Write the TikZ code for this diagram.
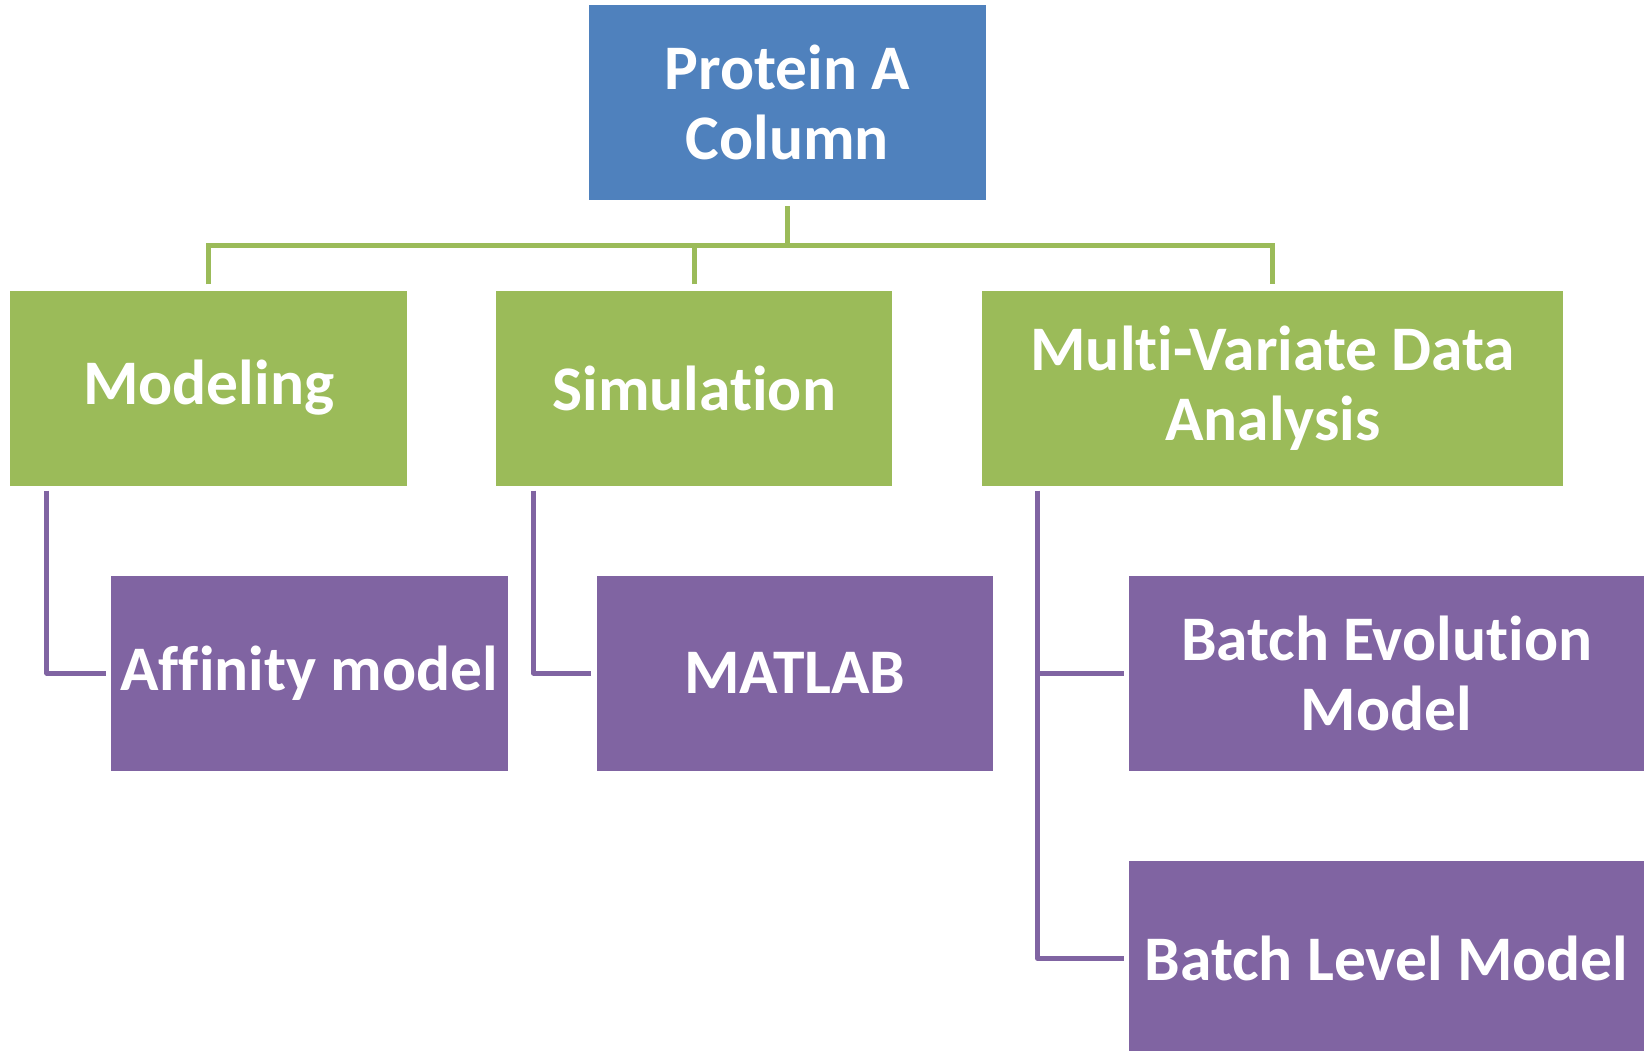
\documentclass[tikz,border=0pt]{standalone}
\usepackage{fontspec}
\setmainfont{Carlito}[Ligatures=NoCommon]
\definecolor{boxblue}{HTML}{4F81BD}
\definecolor{boxgreen}{HTML}{9BBB59}
\definecolor{boxpurple}{HTML}{8064A2}
\begin{document}
\begin{tikzpicture}[x=1pt,y=-1pt,
  box/.style={rectangle, inner sep=0pt, minimum height=195pt, text=white,
    font=\fontsize{63.5}{70}\selectfont\bfseries, align=flush center},
  bluebox/.style={box, fill=boxblue, minimum width=396.5pt, text width=390pt},
  greenbox/.style={box, fill=boxgreen},
  purplebox/.style={box, fill=boxpurple},
  gline/.style={draw=boxgreen, line width=5pt},
  pline/.style={draw=boxpurple, line width=5pt, line join=round}]
\useasboundingbox (0,0) rectangle (1644,1051);

% top level
\node[bluebox] (top) at (787.3,102.75) {Protein A\\Column};

% second level
\node[greenbox, minimum width=396.3pt, text width=390pt] (modeling) at (208.6,388) {Modeling};
\node[greenbox, minimum width=396.3pt, text width=390pt] (simulation) at (694.2,388) {Simulation};
\node[greenbox, minimum width=581pt, text width=570pt] (mvda) at (1272.8,388) {Multi-Variate Data\\Analysis};

% third level
\node[purplebox, minimum width=396.5pt, text width=396pt] (affinity) at (309.3,673.1) {Affinity model};
\node[purplebox, minimum width=396.5pt, text width=390pt] (matlab) at (794.8,673.1) {MATLAB};
\node[purplebox, minimum width=515pt, text width=505pt] (batchevo) at (1386.5,673.1) {Batch Evolution\\Model};
\node[purplebox, minimum width=515pt, text width=515pt] (batchlevel) at (1386.5,958.3) {Batch Level Model};

% green bus from the top box to the second level
\coordinate (bus) at (787.4,245.4);
\draw[gline] ([yshift=-6pt]top.south) -- (top.south |- bus);
\draw[gline] ([yshift=6pt]modeling.north) |- (bus) -| ([yshift=6pt]mvda.north);
\draw[gline] ([yshift=6pt]simulation.north) -- (simulation.north |- bus);

% purple elbows to the third level
\draw[pline] ([xshift=36.7pt,yshift=-5pt]modeling.south west) |- ([xshift=-5pt]affinity.west);
\draw[pline] ([xshift=37.7pt,yshift=-5pt]simulation.south west) |- ([xshift=-5pt]matlab.west);
\draw[pline] ([xshift=55.6pt,yshift=-5pt]mvda.south west) |- ([xshift=-5pt]batchlevel.west);
\draw[pline] ([xshift=55.6pt]mvda.south west |- batchevo.west) -- ([xshift=-5pt]batchevo.west);
\end{tikzpicture}
\end{document}
